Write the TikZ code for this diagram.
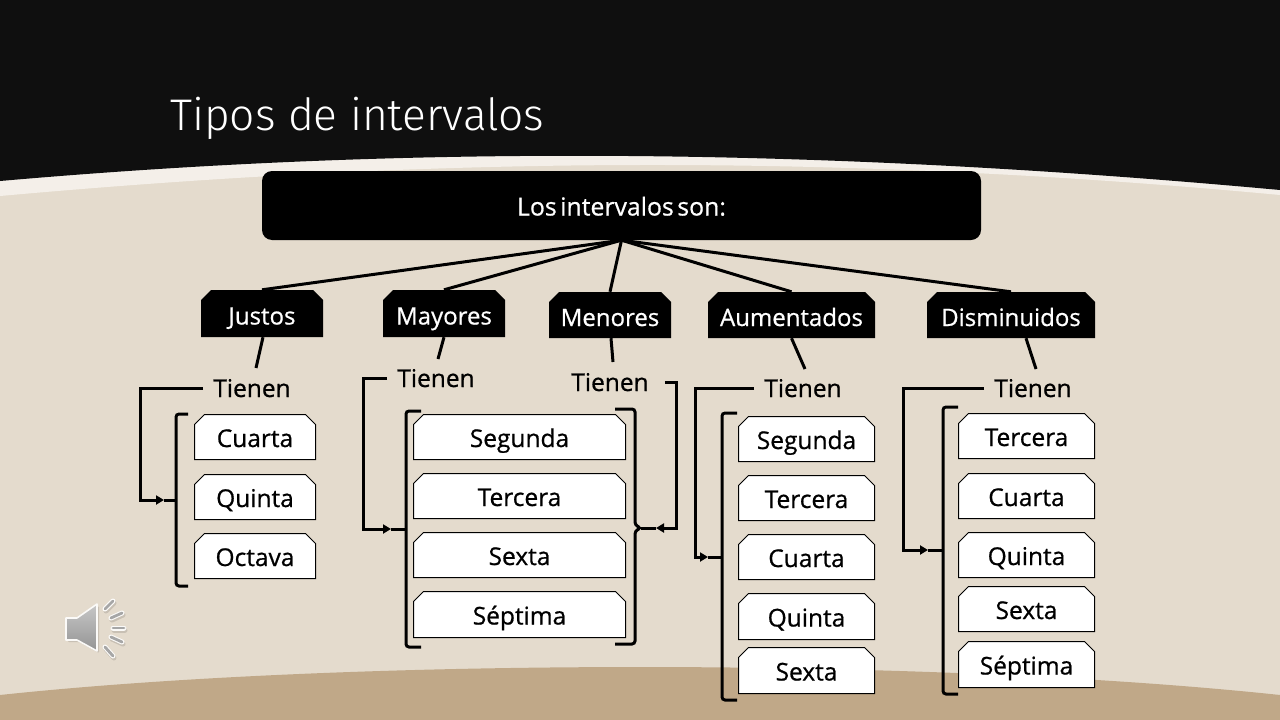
\documentclass[tikz,border=0pt]{standalone}
\usepackage{fontspec}
\setmainfont{Open Sans}[BoldFont={Open Sans},BoldFeatures={FakeBold=0.7}]
\newfontfamily\titlefont{Fira Sans Light}
\usetikzlibrary{shapes.misc,arrows.meta}
\definecolor{bgsand}{HTML}{E4DBCD}
\definecolor{strip}{HTML}{F4EFE9}
\definecolor{ink}{HTML}{0F0F0F}
\definecolor{tan}{HTML}{C0A888}
\tikzset{
  blackbox/.style={chamfered rectangle,chamfered rectangle corners={north west,north east},
    chamfered rectangle xsep=5pt,chamfered rectangle ysep=5pt,fill=black,text=white,inner sep=0pt,
    text height=23pt,text depth=1pt,font=\fontsize{24}{24}\selectfont\bfseries},
  whitebox/.style={chamfered rectangle,chamfered rectangle corners={north west,north east},
    chamfered rectangle xsep=5pt,chamfered rectangle ysep=5pt,fill=white,draw=black,line width=1pt,inner sep=0pt,
    text height=22pt,text depth=2pt,font=\fontsize{24.5}{24}\selectfont\bfseries},
  tienen/.style={inner xsep=10pt,inner ysep=0pt,text height=20pt,text depth=2pt,font=\fontsize{24.5}{24}\selectfont\bfseries},
  link/.style={line width=3pt,draw=black},
  brace/.style={line width=3pt,draw=black,rounded corners=3pt},
  elbow/.style={line width=3pt,draw=black,-{Triangle[length=8pt,width=9pt]}},
}
\newcommand{\wbx}[6]{\node[whitebox,minimum width=#3pt-#2pt-1pt,minimum height=#5pt-#4pt-1pt] (#1) at ({(#2+#3)/2},{(#4+#5)/2}) {#6};}
% brace: x, arm-end x, top, mid, bottom, nib x
\newcommand{\bracket}[6]{\draw[brace] (#2,#3) -- (#1,#3) -- (#1,#4-3) -- (#6,#4) -- (#1,#4+3) -- (#1,#5) -- (#2,#5);}
\begin{document}
\begin{tikzpicture}[x=1pt,y=-1pt]
\useasboundingbox (0,0) rectangle (1280,720);
\fill[bgsand] (0,0) rectangle (1280,720);
\fill[strip] (0,150) -- (0,196) .. controls (400,160) and (800,150) .. (1280,195) -- (1280,150) -- cycle;
\fill[ink] (0,0) -- (0,181) .. controls (400,146) and (800,146) .. (1280,190) -- (1280,0) -- cycle;
\fill[tan] (0,695) .. controls (350,657.7) and (930,657.7) .. (1280,695) -- (1280,720) -- (0,720) -- cycle;
\node[anchor=west,text=white,inner sep=0pt,font=\titlefont\fontsize{44.3}{46}\selectfont] (title) at (170,118) {Tipos de intervalos};
% root
\node[fill=black,rounded corners=10pt,minimum width=719pt,minimum height=69pt,inner sep=0pt,text=white,
  text height=20pt,text depth=0pt,font=\fontsize{24.8}{24}\selectfont\bfseries] (root) at (621.5,205.5) {\spaceskip=3.5pt\relax Los intervalos son:};
% category boxes
\node[blackbox,minimum width=122pt,minimum height=47pt] (justos) at (262,313.5) {Justos};
\node[blackbox,minimum width=122pt,minimum height=47pt] (mayores) at (444,313.5) {Mayores};
\node[blackbox,minimum width=122pt,minimum height=46pt] (menores) at (610,315) {Menores};
\node[blackbox,minimum width=167pt,minimum height=46pt] (aument) at (791.5,315) {Aumentados};
\node[blackbox,minimum width=168pt,minimum height=46pt] (dismin) at (1011,315) {Disminuidos};
\foreach \n in {justos,mayores,menores,aument,dismin}{\draw[link] (root.south) -- (\n.north);}
% tienen
\node[tienen] (t1) at (252,388) {Tienen};
\node[tienen] (t2) at (436,378) {Tienen};
\node[tienen] (t3) at (610,382) {Tienen};
\node[tienen] (t4) at (803,388) {Tienen};
\node[tienen] (t5) at (1033,388) {Tienen};
\coordinate (e1) at (256,368); \coordinate (e2) at (438,359); \coordinate (e3) at (613,362); \coordinate (e4) at (805,369); \coordinate (e5) at (1036,369);
\draw[link] (justos.south) ++(1,0) -- (e1);
\draw[link] (mayores.south) -- (e2);
\draw[link] (menores.south) ++(1,0) -- (e3);
\draw[link] (aument.south) -- (e4);
\draw[link] (dismin.south) ++(15,0) -- (e5);
% white boxes
\wbx{a1}{194}{316}{414}{460}{Cuarta}
\wbx{a2}{194}{316}{474}{520}{Quinta}
\wbx{a3}{194}{316}{533}{579}{Octava}
\wbx{b1}{413}{626}{414}{460}{Segunda}
\wbx{b2}{413}{626}{473}{519}{Tercera}
\wbx{b3}{413}{626}{532}{578}{Sexta}
\wbx{b4}{413}{626}{591}{638}{Séptima}
\wbx{c1}{738}{875}{416}{462}{Segunda}
\wbx{c2}{738}{875}{475}{521}{Tercera}
\wbx{c3}{738}{875}{534}{580}{Cuarta}
\wbx{c4}{738}{875}{593}{640}{Quinta}
\wbx{c5}{738}{875}{647}{694}{Sexta}
\wbx{d1}{958}{1095}{413}{459}{Tercera}
\wbx{d2}{958}{1095}{473}{519}{Cuarta}
\wbx{d3}{958}{1095}{532}{578}{Quinta}
\wbx{d4}{958}{1095}{586}{632}{Sexta}
\wbx{d5}{958}{1095}{641}{688}{Séptima}
% braces
\bracket{176}{188}{414}{500}{586}{176}
\bracket{406}{421}{411}{529}{647}{406}
\bracket{635}{615}{409}{528}{644}{641}
\bracket{722}{737}{413}{557}{700}{722}
\bracket{943}{958}{407}{550}{694}{943}
% elbows with mid arrowheads
\coordinate (h1) at (164,500); \coordinate (m1) at (176,500);
\coordinate (h2) at (391,529); \coordinate (m2) at (406,529);
\coordinate (h3) at (656,528); \coordinate (m3) at (641,528);
\coordinate (h4) at (708,557); \coordinate (m4) at (722,557);
\coordinate (h5) at (928,550); \coordinate (m5) at (943,550);
\draw[elbow] (t1.west) -- (140,388) -- (140,500) -- (h1);
\draw[link] (h1) -- (m1);
\draw[elbow] (t2.west) -- (363,378) -- (363,529) -- (h2);
\draw[link] (h2) -- (m2);
\draw[elbow] ([xshift=6pt]t3.east) -- (676,382) -- (676,528) -- (h3);
\draw[link] (h3) -- (m3);
\draw[elbow] (t4.west) -- (695,388) -- (695,557) -- (h4);
\draw[link] (h4) -- (m4);
\draw[elbow] (t5.west) -- (903,388) -- (903,550) -- (h5);
\draw[link] (h5) -- (m5);
% speaker icon
\fill[black,opacity=.12,rounded corners=1pt] (68,620) -- (79,620) -- (99,606) -- (99,653) -- (79,642) -- (68,642) -- cycle;
\draw[draw=white!85!bgsand,line width=1.6pt,top color=black!22,bottom color=black!42,line join=round]
  (66,618) -- (77,618) -- (97,604) -- (97,651) -- (77,640) -- (66,640) -- cycle;
\foreach \a/\b/\c/\d in {105/609/113/601,111/618/122/613,113/628/124/628,111/637/122/642,105/647/113/656}{
  \draw[black,opacity=.12,line width=5pt,line cap=round] (\a+1,\b+2) -- (\c+1,\d+2);
  \draw[white!85!bgsand,line width=5pt,line cap=round] (\a,\b) -- (\c,\d);
  \draw[black!35,line width=2.8pt,line cap=round] (\a,\b) -- (\c,\d);
}
\end{tikzpicture}
\end{document}
